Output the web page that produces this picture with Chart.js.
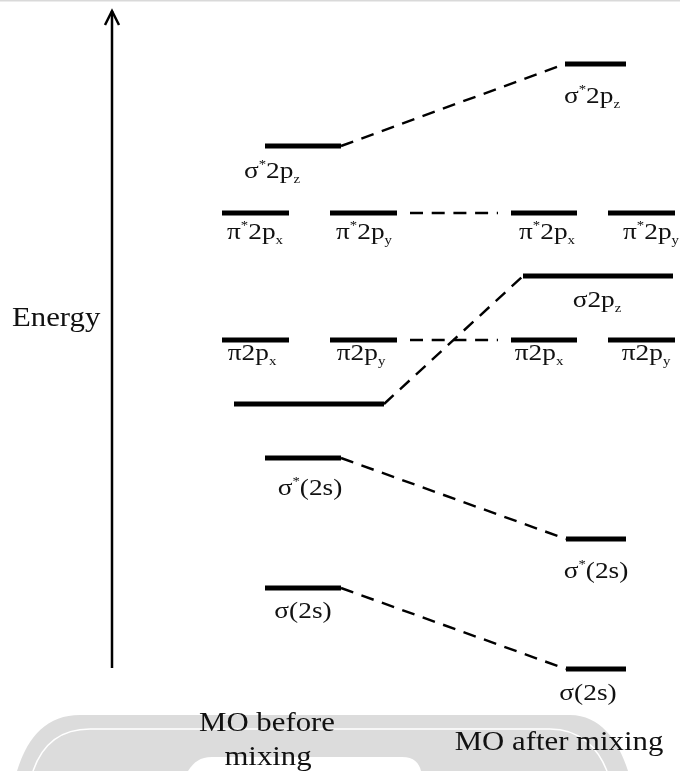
<!DOCTYPE html>
<html>
<head>
<meta charset="utf-8">
<script src="https://cdn.jsdelivr.net/npm/chart.js@4.4.1/dist/chart.umd.min.js"></script>
<style>
html, body { margin: 0; padding: 0; background: #fff; }
#wrap { position: relative; width: 680px; height: 771px; }
</style>
</head>
<body>
<div id="wrap"><canvas id="mo"></canvas></div>
<script>
// energy in arbitrary units (0 = foot of the energy arrow), x in diagram units
// '^c' = superscript char, '_c' = subscript char
const level_labels = ['σ^*2p_z', 'σ^*2p_z',
    'π^*2p_x', 'π^*2p_y', 'π^*2p_x', 'π^*2p_y',
    'σ2p_z',
    'π2p_x', 'π2p_y', 'π2p_x', 'π2p_y',
    '',
    'σ^*(2s)', 'σ^*(2s)',
    'σ(2s)', 'σ(2s)']
const level_energy = [52.2, 60.4, 45.5, 45.5, 45.5, 45.5, 39.2, 32.8, 32.8, 32.8, 32.8, 26.4, 21.0, 12.9, 8.0, -0.1]
const level_from = [265, 565, 222, 330, 511, 608, 523, 222, 330, 511, 608, 234, 265, 566, 265, 566]
const level_to = [341, 626, 289, 397, 577, 675, 673, 289, 397, 577, 675, 384, 341, 626, 341, 626]
const label_x = [272, 592, 255, 364, 547, 651, 597, 252, 361, 539, 646, 0, 310, 596, 303, 588]

// correlation lines: [from level, to level]
const links = [[0, 1], [3, 4], [11, 6], [8, 9], [12, 13], [14, 15]]
const link_gap = [0, 13, 0, 13, 0, 0]

const axis_title = 'Energy'
const column_titles = [['MO before', 'mixing'], ['MO after mixing']]
const arrow_x = 112
const arrow_span = [0, 65.7]

// drop from bar to label baseline, px
const label_drop = [32, 39, 26, 26, 26, 26, 31, 20, 20, 20, 20, 0, 37, 39, 30, 31]
const SERIF = '"Liberation Serif", "DejaVu Serif", serif'
const STRETCH = 1.14

let datasets = []

level_energy.forEach((e, i) => {
    datasets.push({
        data: [{x: level_from[i], y: e}, {x: level_to[i], y: e}],
        borderColor: '#000',
        borderWidth: 5,
        borderCapStyle: 'butt',
        showLine: true,
        pointRadius: 0
    })
})

links.forEach((l, i) => {
    let a = l[0], b = l[1]
    datasets.push({
        data: [{x: level_to[a] + link_gap[i], y: level_energy[a]},
               {x: level_from[b] - link_gap[i], y: level_energy[b]}],
        borderColor: '#000',
        borderWidth: 2.4,
        borderDash: [13, 8.7],
        borderCapStyle: 'butt',
        showLine: true,
        pointRadius: 0
    })
})

datasets.push({
    data: [{x: arrow_x, y: arrow_span[0]}, {x: arrow_x, y: arrow_span[1]}],
    borderColor: '#000',
    borderWidth: 2.5,
    showLine: true,
    pointRadius: 0
})

function draw_rich(ctx, text, cx, baseline, size) {
    let parts = []
    for (let i = 0; i < text.length; i++) {
        let c = text[i]
        if ((c === '^' || c === '_') && i + 1 < text.length) {
            parts.push({t: text[i + 1], k: c})
            i++
        } else parts.push({t: c, k: ''})
    }
    let small = Math.round(size * 0.56)
    let w = 0
    parts.forEach(p => {
        ctx.font = `${p.k ? small : size}px ${SERIF}`
        p.w = ctx.measureText(p.t).width
        w += p.w
    })
    ctx.save()
    ctx.translate(cx, baseline)
    ctx.scale(STRETCH, 1)
    let x = -w / 2
    parts.forEach(p => {
        ctx.font = `${p.k ? small : size}px ${SERIF}`
        let dy = 0
        if (p.k === '^') dy = -size * 0.42
        if (p.k === '_') dy = size * 0.2
        ctx.fillText(p.t, x, dy)
        x += p.w
    })
    ctx.restore()
}

function draw_text(ctx, text, cx, baseline, size) {
    ctx.save()
    ctx.font = `${size}px ${SERIF}`
    ctx.translate(cx, baseline)
    ctx.scale(STRETCH, 1)
    ctx.textAlign = 'center'
    ctx.fillText(text, 0, 0)
    ctx.restore()
}

const backdrop = {
    id: 'backdrop',
    beforeDraw(chart) {
        const ctx = chart.ctx
        ctx.save()
        // thin grey rule at the top
        ctx.strokeStyle = '#d9d9d9'
        ctx.lineWidth = 1.5
        ctx.beginPath(); ctx.moveTo(0, 0.75); ctx.lineTo(680, 0.75); ctx.stroke()
        // faint watermark band at the foot
        ctx.fillStyle = '#dcdcdc'
        ctx.beginPath()
        ctx.moveTo(17, 771)
        ctx.bezierCurveTo(28, 735, 48, 715, 80, 715)
        ctx.lineTo(570, 715)
        ctx.bezierCurveTo(600, 715, 618, 740, 628, 771)
        ctx.closePath()
        ctx.fill()
        ctx.strokeStyle = '#ffffff'
        ctx.lineWidth = 1.5
        ctx.beginPath()
        ctx.moveTo(33, 771)
        ctx.bezierCurveTo(42, 745, 60, 729, 90, 729)
        ctx.lineTo(550, 729)
        ctx.bezierCurveTo(580, 729, 598, 748, 607, 771)
        ctx.stroke()
        ctx.fillStyle = '#ffffff'
        ctx.beginPath()
        ctx.moveTo(188, 771)
        ctx.bezierCurveTo(194, 762, 200, 757, 212, 757)
        ctx.lineTo(402, 757)
        ctx.bezierCurveTo(414, 757, 419, 763, 421, 771)
        ctx.closePath()
        ctx.fill()
        ctx.restore()
    }
}

const annotations = {
    id: 'annotations',
    afterDatasetsDraw(chart) {
        const ctx = chart.ctx
        const xs = chart.scales.x, ys = chart.scales.y
        ctx.save()
        ctx.fillStyle = '#111'
        level_labels.forEach((t, i) => {
            if (!t) return
            draw_rich(ctx, t, xs.getPixelForValue(label_x[i]),
                ys.getPixelForValue(level_energy[i]) + label_drop[i], 24)
        })
        // arrow head
        let ax = xs.getPixelForValue(arrow_x)
        let ay = ys.getPixelForValue(arrow_span[1])
        ctx.strokeStyle = '#000'
        ctx.lineWidth = 2.5
        ctx.beginPath()
        ctx.moveTo(ax - 7, ay + 14)
        ctx.lineTo(ax, ay)
        ctx.lineTo(ax + 7, ay + 14)
        ctx.stroke()

        ctx.textAlign = 'left'
        ctx.save()
        ctx.font = `27px ${SERIF}`
        ctx.translate(12, 326)
        ctx.scale(STRETCH, 1)
        ctx.fillText(axis_title, 0, 0)
        ctx.restore()

        draw_text(ctx, column_titles[0][0], 267, 731, 27)
        draw_text(ctx, column_titles[0][1], 268, 765, 27)
        draw_text(ctx, column_titles[1][0], 559, 750, 27)
        ctx.restore()
    }
}

new Chart(document.getElementById('mo'), {
    type: 'scatter',
    data: { datasets: datasets },
    options: {
        responsive: true,
        maintainAspectRatio: false,
        animation: false,
        layout: { padding: 0 },
        scales: {
            x: { display: false, min: 0, max: 680 },
            y: { display: false, min: -10.3, max: 66.8 }
        },
        plugins: { legend: { display: false }, tooltip: { enabled: false } }
    },
    plugins: [backdrop, annotations]
})
</script>
</body>
</html>
